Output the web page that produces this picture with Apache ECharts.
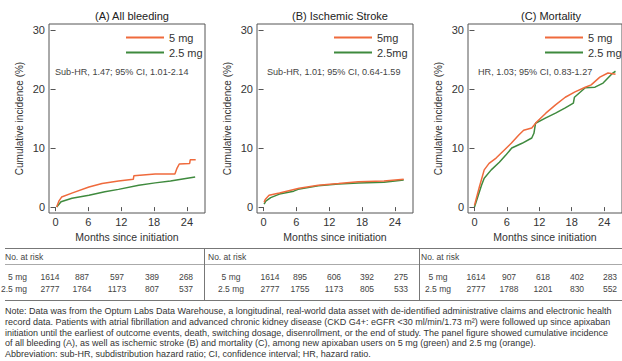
<!DOCTYPE html>
<html><head><meta charset="utf-8">
<script src="https://cdn.jsdelivr.net/npm/echarts@6/dist/echarts.min.js"></script>
<style>html,body{margin:0;padding:0;background:#fff}#c{width:622px;height:361px}</style>
</head><body><div id="c"></div>
<script>
// ---- data ----
const panelTitles = ['(A) All bleeding', '(B) Ischemic Stroke', '(C) Mortality'];
const legendNames = [['5 mg', '2.5 mg'], ['5mg', '2.5mg'], ['5 mg', '2.5 mg']];
const hrTexts = ['Sub-HR, 1.47; 95% CI, 1.01-2.14', 'Sub-HR, 1.01; 95% CI, 0.64-1.59', 'HR, 1.03; 95% CI, 0.83-1.27'];
const xTicks = [0, 6, 12, 18, 24];
const yTicks = [0, 10, 20, 30];

const monthsA5 = [0.2, 0.6, 1.1, 3.1, 6.1, 8.5, 11.5, 14.2, 14.3, 18.2, 21.8, 22.2, 22.6, 24.5, 24.6, 25.6];
const incA5    = [0, 1.0, 1.7, 2.4, 3.4, 4.0, 4.4, 4.7, 5.3, 5.6, 5.6, 6.6, 7.3, 7.4, 8.0, 8.0];
const monthsA25 = [0.2, 1.0, 3.0, 6.1, 9.0, 11.5, 15.2, 18.2, 21.0, 23.5, 25.5];
const incA25    = [0, 0.9, 1.5, 2.0, 2.6, 3.0, 3.7, 4.1, 4.4, 4.8, 5.1];

const monthsB5 = [0.1, 0.3, 1.0, 2.9, 6.5, 10.0, 13.7, 17.3, 22.0, 25.6];
const incB5    = [0.8, 1.3, 2.0, 2.4, 3.2, 3.7, 4.0, 4.3, 4.4, 4.7];
const monthsB25 = [0.1, 0.4, 1.3, 2.9, 5.5, 6.3, 10.0, 13.7, 17.3, 22.0, 25.6];
const incB25    = [0.5, 1.0, 1.6, 2.2, 2.7, 3.0, 3.6, 3.9, 4.1, 4.2, 4.6];

const monthsC5 = [0, 0.9, 1.8, 2.7, 4.0, 5.1, 6.8, 8.2, 9.1, 10.6, 11.5, 13.2, 15.0, 16.8, 18.6, 20.5, 21.6, 23.2, 24.7, 26.1];
const incC5    = [0.3, 3.4, 6.3, 7.4, 8.3, 9.3, 10.8, 12.2, 13.0, 13.4, 14.4, 15.9, 17.3, 18.6, 19.5, 20.3, 20.7, 22.0, 22.7, 22.5];
const monthsC25 = [0, 1.3, 1.8, 3.1, 4.6, 5.8, 6.9, 8.8, 10.6, 11.0, 11.3, 13.2, 15.0, 16.8, 18.3, 18.5, 20.5, 22.3, 23.8, 25.6, 26.1];
const incC25    = [0, 3.7, 4.9, 6.3, 7.6, 8.8, 10.0, 10.8, 11.7, 12.5, 14.2, 15.1, 15.9, 16.8, 17.6, 18.6, 20.2, 20.3, 21.0, 22.7, 23.0];

const riskA5 = [1614, 887, 597, 389, 268], riskA25 = [2777, 1764, 1173, 807, 537];
const riskB5 = [1614, 895, 606, 392, 275], riskB25 = [2777, 1755, 1173, 805, 533];
const riskC5 = [1614, 907, 618, 402, 283], riskC25 = [2777, 1788, 1201, 830, 552];
const riskRowLabels = ['5 mg', '2.5 mg'];

const noteLines = [
  'Note: Data was from the Optum Labs Data Warehouse, a longitudinal, real-world data asset with de-identified administrative claims and electronic health',
  'record data. Patients with atrial fibrillation and advanced chronic kidney disease (CKD G4+: eGFR <30 ml/min/1.73 m\u00B2) were followed up since apixaban',
  'initiation until the earliest of outcome events, death, switching dosage, disenrollment, or the end of study. The panel figure showed cumulative incidence',
  'of all bleeding (A), as well as ischemic stroke (B) and mortality (C), among new apixaban users on 5 mg (green) and 2.5 mg (orange).',
  'Abbreviation: sub-HR, subdistribution hazard ratio; CI, confidence interval; HR, hazard ratio.'
];

// ---- layout ----
const ORANGE = '#ef6a3c', GREEN = '#3f8a3e';
const FONT = '"Liberation Sans", Arial, sans-serif';
const gridLefts = [49, 257, 468];
const GW = 156, GTOP = 24, GH = 189;
const zip = (a, b) => a.map((v, i) => [v, b[i]]);
const seriesData = [
  [zip(monthsA5, incA5), zip(monthsA25, incA25)],
  [zip(monthsB5, incB5), zip(monthsB25, incB25)],
  [zip(monthsC5, incC5), zip(monthsC25, incC25)]
];
const risk = [[riskA5, riskA25], [riskB5, riskB25], [riskC5, riskC25]];
const riskCols = [[50, 82, 117, 152, 186], [270, 300, 334, 367, 401], [476, 509, 543, 577, 610]];
const riskLabelX = [[27, 'right'], [231, 'center'], [438, 'center']];
const noAtRiskX = [5, 208, 421];
const TFONT = '8.5px ' + FONT;

const grids = [], xAxes = [], yAxes = [], series = [], titles = [], legends = [], graphics = [];
for (let p = 0; p < 3; p++) {
  const L = gridLefts[p];
  grids.push({left: L, top: GTOP, width: GW, height: GH, show: true, borderColor: '#555', borderWidth: 1, backgroundColor: '#fff'});
  xAxes.push({
    type: 'value', gridIndex: p, min: -1.2, max: 27.3,
    name: 'Months since initiation', nameLocation: 'middle', nameGap: 16,
    nameTextStyle: {fontFamily: FONT, fontSize: 10.5, color: '#333'},
    axisLine: {show: false}, splitLine: {show: false},
    axisTick: {show: true, length: 4, lineStyle: {color: '#555'}, customValues: xTicks},
    axisLabel: {color: '#333', fontFamily: FONT, fontSize: 11, margin: 3, customValues: xTicks}
  });
  yAxes.push({
    type: 'value', gridIndex: p, min: -1, max: 31,
    name: 'Cumulative incidence (%)', nameLocation: 'middle', nameGap: 25, nameRotate: 90,
    nameTextStyle: {fontFamily: FONT, fontSize: 10, color: '#333'},
    axisLine: {show: false}, splitLine: {show: false},
    axisTick: {show: true, length: 5, lineStyle: {color: '#555'}, customValues: yTicks},
    axisLabel: {color: '#333', fontFamily: FONT, fontSize: 11, margin: 4, customValues: yTicks}
  });
  const names = legendNames[p];
  [ORANGE, GREEN].forEach((col, k) => {
    series.push({
      type: 'line', name: names[k], xAxisIndex: p, yAxisIndex: p,
      data: seriesData[p][k], showSymbol: false, symbol: 'none',
      lineStyle: {color: col, width: 1.5}, itemStyle: {color: col}, z: k === 0 ? 3 : 2
    });
  });
  titles.push({text: panelTitles[p], left: L + GW / 2, textAlign: 'center', top: 5,
    textStyle: {fontFamily: FONT, fontSize: 11, fontWeight: 'normal', color: '#222'}});
  legends.push({
    data: names, orient: 'vertical', left: L + 72, top: 27, itemGap: 4,
    icon: 'rect', itemWidth: 38, itemHeight: 2, selectedMode: false,
    textStyle: {fontFamily: FONT, fontSize: 11, color: '#333', padding: [0, 0, 0, 0]}
  });
  graphics.push({type: 'text', left: [55, 267, 478][p], top: 67,
    style: {text: hrTexts[p], font: '9.1px ' + FONT, fill: '#444'}});

  // risk table per panel
  graphics.push({type: 'text', left: noAtRiskX[p], top: 252, style: {text: 'No. at risk', font: TFONT, fill: '#444'}});
  for (let r = 0; r < 2; r++) {
    const y = r === 0 ? 277 : 289;
    graphics.push({type: 'text', x: riskLabelX[p][0], y: y,
      style: {text: riskRowLabels[r], font: TFONT, fill: '#444', textAlign: riskLabelX[p][1], textVerticalAlign: 'middle'}});
    for (let c = 0; c < 5; c++) {
      graphics.push({type: 'text', x: riskCols[p][c], y: y,
        style: {text: String(risk[p][r][c]), font: TFONT, fill: '#444', textAlign: 'center', textVerticalAlign: 'middle'}});
    }
  }
}
// table lines
const lineStyle = {stroke: '#777', lineWidth: 1};
graphics.push({type: 'line', shape: {x1: 5, y1: 248.5, x2: 622, y2: 248.5}, style: lineStyle});
graphics.push({type: 'line', shape: {x1: 5, y1: 264.5, x2: 622, y2: 264.5}, style: {stroke: '#aaa', lineWidth: 1}});
graphics.push({type: 'line', shape: {x1: 5, y1: 300.5, x2: 622, y2: 300.5}, style: lineStyle});
graphics.push({type: 'line', shape: {x1: 204.5, y1: 248, x2: 204.5, y2: 300}, style: lineStyle});
graphics.push({type: 'line', shape: {x1: 419.5, y1: 248, x2: 419.5, y2: 300}, style: lineStyle});
// notes
noteLines.forEach((t, i) => {
  graphics.push({type: 'text', left: 5, top: [306, 317, 328, 338, 349][i],
    style: {text: t, font: '9px ' + FONT, fill: '#333'}});
});

const chart = echarts.init(document.getElementById('c'), null, {renderer: 'svg'});
chart.setOption({
  backgroundColor: '#fff', animation: false,
  title: titles, legend: legends, grid: grids, xAxis: xAxes, yAxis: yAxes,
  series: series, graphic: graphics
});
</script></body></html>
